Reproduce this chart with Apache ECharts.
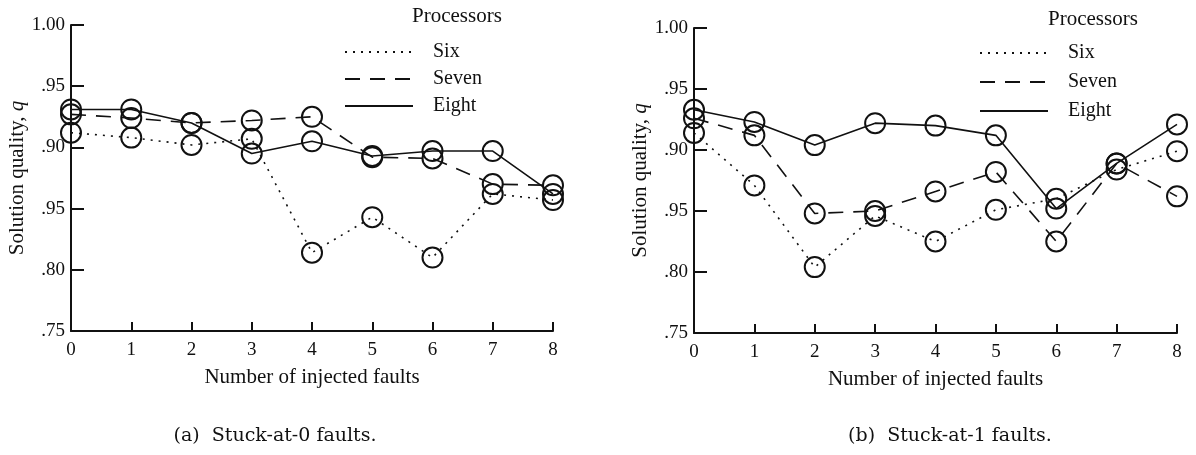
<!DOCTYPE html>
<html>
<head>
<meta charset="utf-8">
<script src="https://cdn.jsdelivr.net/npm/echarts@6/dist/echarts.min.js"></script>
<style>
  html, body { margin: 0; padding: 0; background: #fff; }
  #chart { width: 1196px; height: 455px; }
</style>
</head>
<body>
<div id="chart"></div>
<script>
  // 注入故障数
  const faults = ['0', '1', '2', '3', '4', '5', '6', '7', '8'];
  const yTickLabels = ['.75', '.80', '.95', '.90', '.95', '1.00'];

  // (a) Stuck-at-0
  const sixA = [0.912, 0.908, 0.902, 0.907, 0.814, 0.843, 0.810, 0.862, 0.857];
  const sevenA = [0.927, 0.924, 0.920, 0.922, 0.925, 0.892, 0.891, 0.870, 0.869];
  const eightA = [0.931, 0.931, 0.920, 0.895, 0.905, 0.893, 0.897, 0.897, 0.862];

  // (b) Stuck-at-1
  const sixB = [0.914, 0.871, 0.804, 0.846, 0.825, 0.851, 0.860, 0.884, 0.899];
  const sevenB = [0.926, 0.912, 0.848, 0.850, 0.866, 0.882, 0.825, 0.889, 0.862];
  const eightB = [0.933, 0.923, 0.904, 0.922, 0.920, 0.912, 0.852, 0.889, 0.921];

  const serif = 'Liberation Serif';
  const black = '#111';

  const lineTypes = {
    Six: [2, 6],
    Seven: [15, 10],
    Eight: 'solid'
  };

  function makeXAxis(gridIndex) {
    return {
      type: 'category',
      gridIndex: gridIndex,
      data: faults,
      boundaryGap: false,
      name: 'Number of injected faults',
      nameLocation: 'middle',
      nameGap: 36,
      nameTextStyle: { fontFamily: serif, fontSize: 21, color: black },
      axisLine: { lineStyle: { color: black, width: 2 } },
      axisTick: { inside: true, length: 9, alignWithLabel: true, lineStyle: { color: black, width: 2 } },
      axisLabel: { fontFamily: serif, fontSize: 19, color: black, margin: 10 },
      splitLine: { show: false }
    };
  }

  function makeYAxis(gridIndex) {
    return {
      type: 'value',
      gridIndex: gridIndex,
      min: 0.75,
      max: 1.0,
      interval: 0.05,
      name: 'Solution quality, {q|q}',
      nameLocation: 'middle',
      nameGap: 40,
      nameTextStyle: {
        fontFamily: serif, fontSize: 21, color: black,
        rich: { q: { fontFamily: serif, fontSize: 21, fontStyle: 'italic', color: black } }
      },
      axisLine: { show: true, lineStyle: { color: black, width: 2 } },
      axisTick: { show: true, inside: true, length: 13, lineStyle: { color: black, width: 2 } },
      axisLabel: {
        fontFamily: serif, fontSize: 19, color: black, margin: 6,
        formatter: v => yTickLabels[Math.round((v - 0.75) / 0.05)]
      },
      splitLine: { show: false }
    };
  }

  function makeSeries(name, data, idx) {
    return {
      name: name,
      type: 'line',
      xAxisIndex: idx,
      yAxisIndex: idx,
      data: data,
      symbol: 'circle',
      symbolSize: 20,
      showAllSymbol: true,
      lineStyle: { color: black, width: 1.6, type: lineTypes[name] },
      itemStyle: { color: 'rgba(255,255,255,0)', borderColor: black, borderWidth: 2 },
      emphasis: { disabled: true },
      z: 2
    };
  }

  function makeLegend(left, top, gap) {
    return {
      orient: 'vertical',
      left: left,
      top: top,
      itemWidth: 68,
      itemHeight: 14,
      itemGap: gap,
      data: ['Six', 'Seven', 'Eight'],
      itemStyle: { opacity: 0 },
      textStyle: { fontFamily: serif, fontSize: 20, color: black, padding: [0, 0, 0, 15] },
      selectedMode: false
    };
  }

  const titleStyle = { fontFamily: serif, fontSize: 21, fontWeight: 'normal', color: black };
  const captionStyle = { fontFamily: 'DejaVu Serif', fontSize: 19, fill: black, align: 'center', verticalAlign: 'middle' };

  const chart = echarts.init(document.getElementById('chart'));
  chart.setOption({
    backgroundColor: '#fff',
    animation: false,
    title: [
      { text: 'Processors', left: 407, top: 1, textStyle: titleStyle },
      { text: 'Processors', left: 1043, top: 4, textStyle: titleStyle }
    ],
    graphic: [
      { type: 'text', x: 275, y: 436, style: Object.assign({ text: '(a)  Stuck-at-0 faults.' }, captionStyle) },
      { type: 'text', x: 950, y: 436, style: Object.assign({ text: '(b)  Stuck-at-1 faults.' }, captionStyle) }
    ],
    legend: [makeLegend(339, 37, 7), makeLegend(974, 38, 9)],
    grid: [
      { left: 71, right: 643, top: 25, bottom: 124 },
      { left: 694, right: 19, top: 28, bottom: 122 }
    ],
    xAxis: [makeXAxis(0), makeXAxis(1)],
    yAxis: [makeYAxis(0), makeYAxis(1)],
    series: [
      makeSeries('Six', sixA, 0),
      makeSeries('Seven', sevenA, 0),
      makeSeries('Eight', eightA, 0),
      makeSeries('Six', sixB, 1),
      makeSeries('Seven', sevenB, 1),
      makeSeries('Eight', eightB, 1)
    ]
  });
</script>
</body>
</html>
